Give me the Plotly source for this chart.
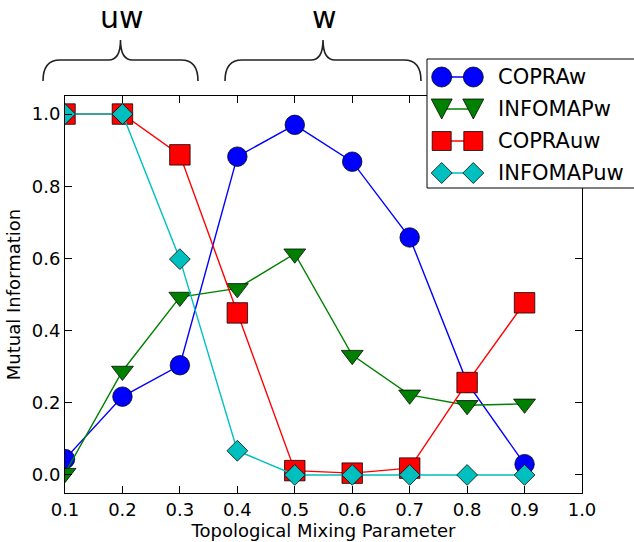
import plotly.graph_objects as go

# ---- data ----
mixing = [0.1, 0.2, 0.3, 0.4, 0.5, 0.6, 0.7, 0.8, 0.9]
copra_w = [0.044, 0.217, 0.304, 0.882, 0.970, 0.868, 0.658, 0.256, 0.030]
infomap_w = [0.005, 0.288, 0.493, 0.517, 0.613, 0.332, 0.222, 0.193, 0.197]
copra_uw = [1.0, 1.0, 0.887, 0.449, 0.012, 0.005, 0.019, 0.256, 0.477]
infomap_uw = [1.0, 1.0, 0.598, 0.067, 0.0, 0.0, 0.0, 0.0, 0.0]
series_names = ["COPRAw", "INFOMAPw", "COPRAuw", "INFOMAPuw"]
group_labels = ["uw", "w"]
x_ticks = [0.1, 0.2, 0.3, 0.4, 0.5, 0.6, 0.7, 0.8, 0.9, 1.0]
y_ticks = [0.0, 0.2, 0.4, 0.6, 0.8, 1.0]

# ---- styles ----
W, H = 634, 542
ML, MR, MT, MB = 65, 52, 96, 49
PW, PH = W - ML - MR, H - MT - MB
FONT = "DejaVu Sans"
colors = ["#0000ff", "#008000", "#ff0000", "#00bfbf"]
symbols = ["circle", "triangle-down", "square", "diamond"]
sizes = [19.5, 19, 20.5, 16]
EDGE = "rgba(0,0,0,0.75)"


def xp(px):
    return (px - ML) / PW


def yp(py):
    return (MT + PH - py) / PH


fig = go.Figure()
for name, vals, c, s, sz in zip(series_names, [copra_w, infomap_w, copra_uw, infomap_uw],
                                colors, symbols, sizes):
    fig.add_trace(go.Scatter(
        x=mixing, y=vals, name=name, mode="lines+markers",
        line=dict(color=c, width=1.4),
        marker=dict(symbol=s, size=sz, color=c, line=dict(color=EDGE, width=1)),
        showlegend=False,
    ))

shapes = []
annotations = []


# braces
def brace(x0, x1, ytip=40, ymid=60, yend=81):
    xm = (x0 + x1) / 2
    pts = [
        f"M{xp(x0)},{yp(yend)}",
        f"Q{xp(x0)},{yp(ymid)} {xp(x0 + 17)},{yp(ymid)}",
        f"L{xp(xm - 12)},{yp(ymid)}",
        f"Q{xp(xm)},{yp(ymid)} {xp(xm)},{yp(ytip)}",
        f"Q{xp(xm)},{yp(ymid)} {xp(xm + 12)},{yp(ymid)}",
        f"L{xp(x1 - 17)},{yp(ymid)}",
        f"Q{xp(x1)},{yp(ymid)} {xp(x1)},{yp(yend)}",
    ]
    return dict(type="path", xref="paper", yref="paper", path=" ".join(pts),
                line=dict(color="#222222", width=1.6), layer="above")


brace_spans = [(43, 198), (225, 421)]
for (bx0, bx1), lab in zip(brace_spans, group_labels):
    shapes.append(brace(bx0, bx1))
    annotations.append(dict(x=xp((bx0 + bx1) / 2 + 1), y=yp(17), xref="paper", yref="paper",
                            text=lab, showarrow=False, xanchor="center", yanchor="middle",
                            font=dict(family=FONT, size=30, color="black")))

# legend box
LX0, LY0, LY1 = 427, 59, 188
shapes.append(dict(type="rect", xref="paper", yref="paper", x0=xp(LX0), x1=xp(660),
                   y0=yp(LY1), y1=yp(LY0), fillcolor="white",
                   line=dict(color="black", width=1), layer="above"))
row_y = [77, 109, 141, 173]
mx = [441.7, 473.3]
for name, c, s, ry in zip(series_names, colors, symbols, row_y):
    shapes.append(dict(type="line", xref="paper", yref="paper", x0=xp(mx[0]), x1=xp(mx[1]),
                       y0=yp(ry), y1=yp(ry), line=dict(color=c, width=1.4), layer="above"))
    for cx in mx:
        if s == "circle":
            r = 10
            shapes.append(dict(type="circle", xref="paper", yref="paper",
                               x0=xp(cx - r), x1=xp(cx + r), y0=yp(ry + r), y1=yp(ry - r),
                               fillcolor=c, line=dict(color=EDGE, width=1), layer="above"))
        elif s == "square":
            r = 9.5
            shapes.append(dict(type="rect", xref="paper", yref="paper",
                               x0=xp(cx - r), x1=xp(cx + r), y0=yp(ry + r), y1=yp(ry - r),
                               fillcolor=c, line=dict(color=EDGE, width=1), layer="above"))
        elif s == "triangle-down":
            path = (f"M{xp(cx - 10.5)},{yp(ry - 10)} L{xp(cx + 10.5)},{yp(ry - 10)} "
                    f"L{xp(cx)},{yp(ry + 10)} Z")
            shapes.append(dict(type="path", xref="paper", yref="paper", path=path,
                               fillcolor=c, line=dict(color=EDGE, width=1), layer="above"))
        else:
            path = (f"M{xp(cx - 10.5)},{yp(ry)} L{xp(cx)},{yp(ry - 10.5)} "
                    f"L{xp(cx + 10.5)},{yp(ry)} L{xp(cx)},{yp(ry + 10.5)} Z")
            shapes.append(dict(type="path", xref="paper", yref="paper", path=path,
                               fillcolor=c, line=dict(color=EDGE, width=1), layer="above"))
    annotations.append(dict(x=xp(496), y=yp(ry), xref="paper", yref="paper", text=name,
                            showarrow=False, xanchor="left", yanchor="middle",
                            font=dict(family=FONT, size=21, color="black")))

axis_common = dict(showline=True, linecolor="black", linewidth=1, mirror="ticks",
                   ticks="inside", ticklen=7, tickcolor="black", tickwidth=1,
                   showgrid=False, zeroline=False, tickformat=".1f",
                   tickfont=dict(family=FONT, size=18, color="black"))

fig.update_layout(
    width=W, height=H,
    margin=dict(l=ML, r=MR, t=MT, b=MB, autoexpand=False),
    paper_bgcolor="white", plot_bgcolor="white",
    font=dict(family=FONT, color="black"),
    xaxis=dict(range=[0.1, 1.0], tickvals=x_ticks,
               title=dict(text="Topological Mixing Parameter", standoff=2,
                          font=dict(family=FONT, size=18, color="black")),
               **axis_common),
    yaxis=dict(range=[-0.05, 1.05], tickvals=y_ticks,
               title=dict(text="Mutual Information", standoff=6,
                          font=dict(family=FONT, size=18, color="black")),
               **axis_common),
    shapes=shapes,
    annotations=annotations,
)

fig.write_html("out.html")
